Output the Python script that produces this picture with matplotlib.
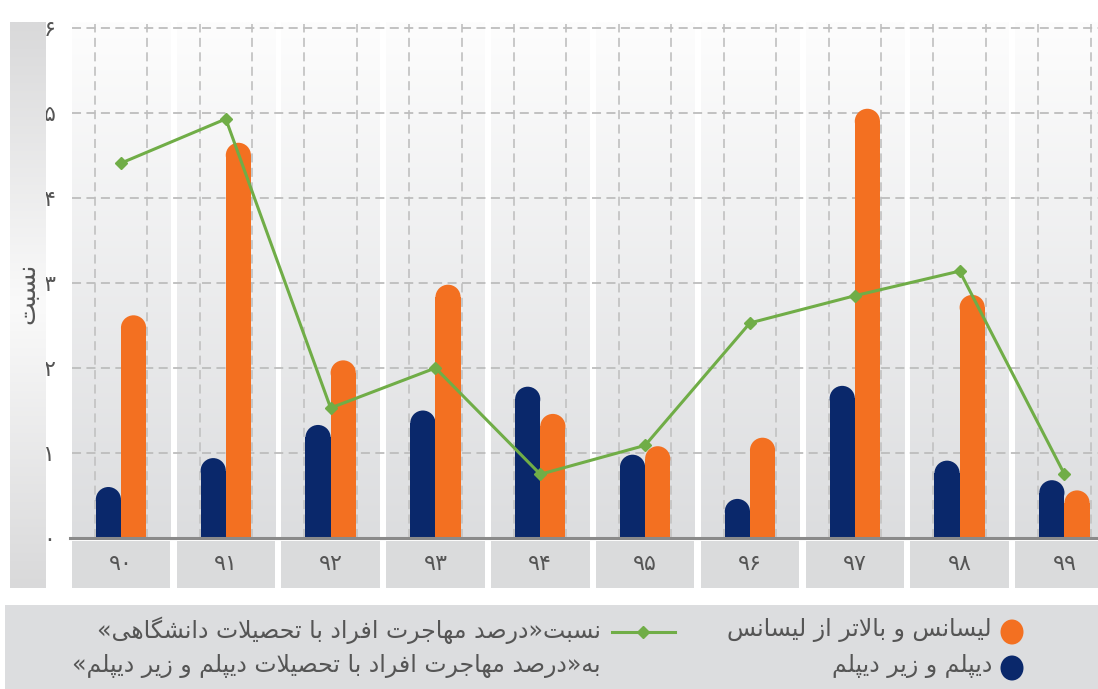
import numpy as np
import matplotlib
matplotlib.use("Agg")
import matplotlib.pyplot as plt
from matplotlib.patches import Rectangle, Ellipse
from matplotlib.lines import Line2D

# data
years = ['۹۰', '۹۱', '۹۲', '۹۳', '۹۴', '۹۵', '۹۶', '۹۷', '۹۸', '۹۹']
diploma = [0.60, 0.94, 1.33, 1.50, 1.78, 0.98, 0.46, 1.79, 0.91, 0.68]
bachelor = [2.62, 4.65, 2.09, 2.98, 1.46, 1.08, 1.18, 5.05, 2.86, 0.56]
ratio = [4.41, 4.93, 1.53, 2.00, 0.75, 1.09, 2.53, 2.85, 3.14, 0.75]
yticks = ['۰', '۱', '۲', '۳', '۴', '۵', '۶']

ylabel = 'نسبت'
lbl_bachelor = 'لیسانس و بالاتر از لیسانس'
lbl_diploma = 'دیپلم و زیر دیپلم'
lbl_ratio1 = 'نسبت«درصد مهاجرت افراد با تحصیلات دانشگاهی»'
lbl_ratio2 = 'به«درصد مهاجرت افراد با تحصیلات دیپلم و زیر دیپلم»'

NAVY = '#0a286b'
ORANGE = '#f37021'
GREEN = '#70ad47'
TXT = '#555555'

# --- tiny persian shaper (matplotlib has no arabic shaping / bidi) ---
DUAL = {  # isolated, final, initial, medial
    'ب': '\uFE8F\uFE90\uFE91\uFE92', 'پ': '\uFB56\uFB57\uFB58\uFB59',
    'ت': '\uFE95\uFE96\uFE97\uFE98', 'ج': '\uFE9D\uFE9E\uFE9F\uFEA0',
    'ح': '\uFEA1\uFEA2\uFEA3\uFEA4', 'س': '\uFEB1\uFEB2\uFEB3\uFEB4',
    'ش': '\uFEB5\uFEB6\uFEB7\uFEB8', 'ص': '\uFEB9\uFEBA\uFEBB\uFEBC',
    'ف': '\uFED1\uFED2\uFED3\uFED4', 'گ': '\uFB92\uFB93\uFB94\uFB95',
    'ل': '\uFEDD\uFEDE\uFEDF\uFEE0', 'م': '\uFEE1\uFEE2\uFEE3\uFEE4',
    'ن': '\uFEE5\uFEE6\uFEE7\uFEE8', 'ه': '\uFEE9\uFEEA\uFEEB\uFEEC',
    'ی': '\uFBFC\uFBFD\uFBFE\uFBFF',
}
RIGHT = {  # isolated, final
    'ا': '\uFE8D\uFE8E', 'د': '\uFEA9\uFEAA', 'ر': '\uFEAD\uFEAE',
    'ز': '\uFEAF\uFEB0', 'و': '\uFEED\uFEEE',
}
MIRROR = {'«': '»', '»': '«'}


def fa(txt):
    out = []
    i = 0
    n = len(txt)
    while i < n:
        c = txt[i]
        pj = i > 0 and txt[i - 1] in DUAL
        if c == 'ل' and i + 1 < n and txt[i + 1] == 'ا':
            out.append('\uFEFC' if pj else '\uFEFB')
            i += 2
            continue
        nxt = txt[i + 1] if i + 1 < n else ''
        if c in DUAL:
            nj = nxt in DUAL or nxt in RIGHT
            out.append(DUAL[c][int(pj) + 2 * int(nj)])
        elif c in RIGHT:
            out.append(RIGHT[c][1 if pj else 0])
        else:
            out.append(MIRROR.get(c, c))
        i += 1
    return ''.join(reversed(out))


plt.rcParams['font.family'] = ['DejaVu Sans']

W, H = 1098, 689
fig = plt.figure(figsize=(W / 100, H / 100), dpi=100)


def fx(px):
    return px / W


def fy(py):
    return 1 - py / H


# main axes: 0 at y=538px, 85px per unit
ax = fig.add_axes([fx(72), fy(588), fx(1098 - 72), (588 - 22) / H])
ytop = (538 - 22) / 85
ybot = -(588 - 538) / 85
x = np.arange(len(years))

grad = np.linspace(0, 1, 256).reshape(-1, 1)
cm = matplotlib.colors.LinearSegmentedColormap.from_list('g', ['#dcdddf', '#fdfdfd'])
for xi in x:
    ax.imshow(grad, extent=(xi - 0.47, xi + 0.47, 0, ytop), origin='lower',
              cmap=cm, aspect='auto', zorder=0)
    ax.add_patch(Rectangle((xi - 0.47, ybot), 0.94, -ybot - 0.035,
                           facecolor='#dadbdc', edgecolor='none', zorder=0))
    ax.text(xi, -0.31, years[xi], ha='center', va='center', fontsize=16, color=TXT)
    for dx in (-0.25, 0.25):
        ax.plot([xi + dx, xi + dx], [0, 6.05], color='#c4c4c4', lw=1.3,
                ls=(0, (5, 3)), zorder=1)

for yv in range(1, 7):
    ax.axhline(yv, color='#bdbdbd', lw=1.3, ls=(0, (5, 3)), zorder=1)
ax.plot([-0.49, 9.4], [0, 0], color='#8a8a8a', lw=2.2, zorder=4, clip_on=False)

bw = 0.24
cap = 25 / 85  # rounded cap height in data units
for xs, vals, col in ((x - bw / 2, diploma, NAVY), (x + bw / 2, bachelor, ORANGE)):
    ax.bar(xs, np.array(vals) - cap / 2, width=bw, color=col, zorder=2, linewidth=0)
    for xi, v in zip(xs, vals):
        ax.add_patch(Ellipse((xi, v - cap / 2), bw, cap, facecolor=col,
                             edgecolor='none', zorder=2))

ax.plot(x, ratio, color=GREEN, lw=2.2, marker='D', ms=6, zorder=3)

ax.set_xlim(-0.467, 9.32)
ax.set_ylim(ybot, ytop)
ax.set_yticks(range(7))
ax.set_yticklabels(yticks, fontsize=16, color=TXT)
ax.set_xticks([])
ax.tick_params(axis='y', length=0, pad=12)
for s in ax.spines.values():
    s.set_visible(False)

# y label box with vertical gradient
lab = fig.add_axes([fx(10), fy(588), fx(35), (588 - 22) / H])
cm2 = matplotlib.colors.LinearSegmentedColormap.from_list(
    'g2', ['#d9d9da', '#fafafa', '#d9d9da'])
lab.imshow(np.linspace(0, 1, 256).reshape(-1, 1), cmap=cm2, aspect='auto',
           extent=(0, 1, 0, 1), origin='lower')
lab.axis('off')
lab.text(0.5, 0.52, fa(ylabel), rotation=90, ha='center', va='center',
         fontsize=18, color=TXT, transform=lab.transAxes)

# legend panel
fig.patches.append(Rectangle((fx(5), 0), fx(1093), fy(605), transform=fig.transFigure,
                             facecolor='#dcdddf', edgecolor='none', zorder=0))
fig.patches.append(Ellipse((fx(1012), fy(632)), fx(23), 25 / H, transform=fig.transFigure,
                           facecolor=ORANGE, edgecolor='none'))
fig.patches.append(Ellipse((fx(1012), fy(668)), fx(23), 25 / H, transform=fig.transFigure,
                           facecolor=NAVY, edgecolor='none'))
fig.text(fx(992), fy(630), fa(lbl_bachelor), ha='right', va='center', fontsize=17, color=TXT)
fig.text(fx(992), fy(666), fa(lbl_diploma), ha='right', va='center', fontsize=17, color=TXT)
fig.lines.append(Line2D([fx(612), fx(675)], [fy(632), fy(632)], transform=fig.transFigure,
                        color=GREEN, lw=2.2, marker=None))
fig.lines.append(Line2D([fx(643)], [fy(632)], transform=fig.transFigure,
                        color=GREEN, marker='D', ms=6))
fig.text(fx(601), fy(630), fa(lbl_ratio1), ha='right', va='center', fontsize=17, color=TXT)
fig.text(fx(601), fy(666), fa(lbl_ratio2), ha='right', va='center', fontsize=17, color=TXT)

fig.savefig('out.png', dpi=100)
